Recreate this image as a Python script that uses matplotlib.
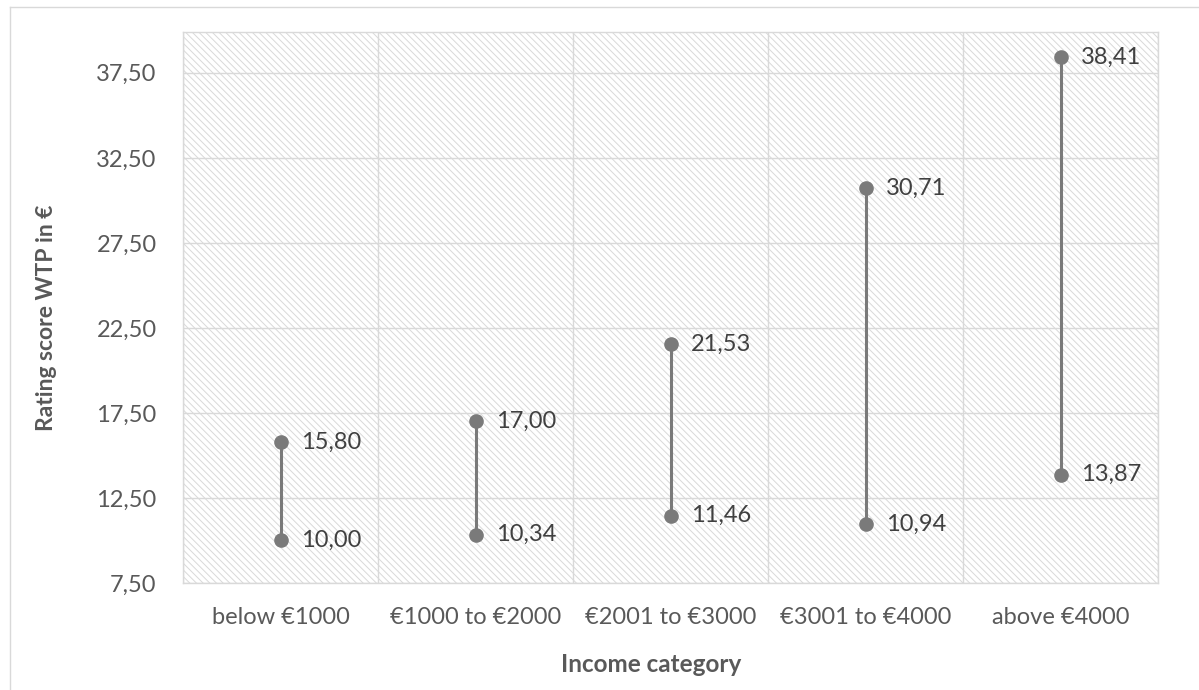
import matplotlib
matplotlib.use("Agg")
import matplotlib.pyplot as plt
from matplotlib.patches import Rectangle
from matplotlib.lines import Line2D
from matplotlib.ticker import FixedLocator, FuncFormatter

categories = ["below €1000", "€1000 to €2000", "€2001 to €3000", "€3001 to €4000", "above €4000"]
low_wtp = [10.00, 10.34, 11.46, 10.94, 13.87]
high_wtp = [15.80, 17.00, 21.53, 30.71, 38.41]
y_ticks = [7.5, 12.5, 17.5, 22.5, 27.5, 32.5, 37.5]

plt.rcParams['font.family'] = ['Lato', 'DejaVu Sans']
plt.rcParams['hatch.linewidth'] = 0.7

W, H = 1199, 690
fig = plt.figure(figsize=(W / 100, H / 100), dpi=100)
ax = fig.add_axes([183 / W, 1 - 583 / H, (1158 - 183) / W, (583 - 32) / H])

grey_line = "#d9d9d9"
text_col = "#595959"
mark_col = "#7a7a7a"

# hatched plot area
bg = Rectangle((0, 0), 1, 1, transform=ax.transAxes, facecolor="white",
               edgecolor=grey_line, linewidth=0, hatch="\\\\\\\\\\", zorder=0.2)
ax.add_patch(bg)

x = list(range(len(categories)))
ax.vlines(x, low_wtp, high_wtp, color=mark_col, linewidth=2.2, zorder=3)
ax.plot(x, low_wtp, "o", color=mark_col, markersize=9.5, zorder=4)
ax.plot(x, high_wtp, "o", color=mark_col, markersize=9.5, zorder=4)

fmt = lambda v: f"{v:.2f}".replace(".", ",")
for xi, lo, hi in zip(x, low_wtp, high_wtp):
    for v in (lo, hi):
        ax.annotate(fmt(v), (xi, v), xytext=(15, 0), textcoords="offset points",
                    va="center", ha="left", fontsize=17, color="#404040", zorder=5)

ax.set_xlim(-0.5, 4.5)
ax.set_ylim(7.5, 39.9)
ax.set_xticks(x)
ax.set_xticklabels(categories)
ax.xaxis.set_minor_locator(FixedLocator([i + 0.5 for i in range(-1, 5)]))
ax.set_yticks(y_ticks)
ax.yaxis.set_major_formatter(FuncFormatter(lambda v, p: fmt(v)))
ax.tick_params(axis="both", which="both", length=0, labelsize=17, labelcolor=text_col)
ax.tick_params(axis="y", pad=19)
ax.tick_params(axis="x", pad=17)

ax.set_axisbelow(True)
ax.grid(axis="y", which="major", color=grey_line, linewidth=1)
ax.grid(axis="x", which="minor", color=grey_line, linewidth=1)
for s in ax.spines.values():
    s.set_color(grey_line)
    s.set_linewidth(1)

fig.text(651 / W, 1 - 665 / H, "Income category", ha="center", va="center",
         fontsize=17.5, fontweight="bold", color=text_col)
fig.text(47 / W, 1 - 318 / H, "Rating score WTP in €", ha="center", va="center",
         rotation=90, fontsize=16.5, fontweight="bold", color=text_col)

# outer chart frame
fig.add_artist(Line2D([10 / W, 10 / W], [0, 1 - 7 / H], color=grey_line, linewidth=1))
fig.add_artist(Line2D([10 / W, 1], [1 - 7 / H, 1 - 7 / H], color=grey_line, linewidth=1))

fig.savefig("out.png", dpi=100)
